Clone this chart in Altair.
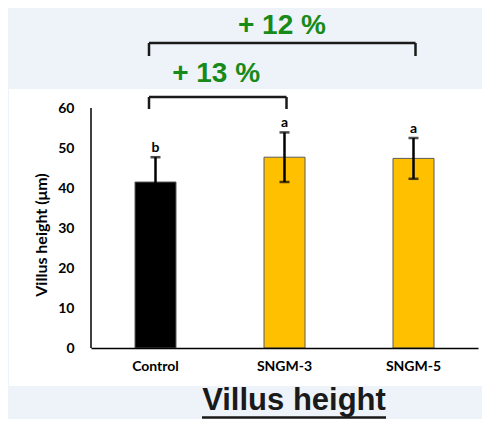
import altair as alt
import pandas as pd

categories = ["Control", "SNGM-3", "SNGM-5"]
means = [41.5, 47.7, 47.4]
errors = [6.2, 6.2, 5.1]
letters = ["b", "a", "a"]
bar_colors = ["#000000", "#FFC000", "#FFC000"]

y_ticks = [0, 10, 20, 30, 40, 50, 60]

bracket_from = ["Control", "Control"]
bracket_to = ["SNGM-5", "SNGM-3"]
bracket_top = [76.25, 62.75]
bracket_leg = [73.0, 59.75]
bracket_text = ["+ 12 %", "+ 13 %"]
bracket_text_y = [78.6, 66.5]
label_anchor = ["SNGM-3", "Control"]
label_band = [0.48, 0.97]

y_title = "Villus height (μm)"
chart_title = "Villus height"

df = pd.DataFrame({"cat": categories, "mean": means, "err": errors,
                   "letter": letters, "color": bar_colors})
df["lo"] = df["mean"] - df["err"]
df["hi"] = df["mean"] + df["err"]

bk = pd.DataFrame({"from": bracket_from, "to": bracket_to,
                   "top": bracket_top, "leg": bracket_leg})

one = pd.DataFrame({"k": [0]})

BLUE = "#eef3fa"
LF = "Lato"
FS = 14

xscale = alt.Scale(domain=categories, paddingInner=0, paddingOuter=0)
yscale = alt.Scale(domain=[0, 85], nice=False)

X_AXIS = alt.Axis(title=None, labelAngle=0, labelFont=LF, labelFontWeight="bold",
                  labelFontSize=FS, labelColor="#000000", ticks=False, tickSize=0,
                  labelPadding=11, domainColor="#000000", domainWidth=1.5,
                  grid=False, zindex=1)
Y_AXIS = alt.Axis(values=y_ticks, title=None, domain=False, ticks=False, tickSize=0,
                  grid=False, labelFont=LF, labelFontWeight="bold", labelFontSize=FS,
                  labelColor="#000000", labelPadding=17, zindex=1)


def xa(field, **kw):
    return alt.X(field, type="nominal", scale=xscale, sort=categories, axis=X_AXIS, **kw)


def ya(field):
    return alt.Y(field, type="quantitative", scale=yscale, axis=Y_AXIS)


# light-blue page areas around the white panel
bg_top = alt.Chart(one).mark_rect(color=BLUE).encode(
    x=alt.value(-83), x2=alt.value(400), y=alt.value(-1), y2=alt.value(81))
bg_left = alt.Chart(one).mark_rect(color=BLUE).encode(
    x=alt.value(-83), x2=alt.value(-82), y=alt.value(-1), y2=alt.value(425))
bg_bot = alt.Chart(one).mark_rect(color=BLUE).encode(
    x=alt.value(-83), x2=alt.value(400), y=alt.value(378), y2=alt.value(425))

bars = alt.Chart(df).mark_bar(size=41, stroke="#5a5a5a", strokeWidth=1).encode(
    x=xa("cat"), y=ya("mean"), fill=alt.Fill("color:N", scale=None))

yline = alt.Chart(pd.DataFrame({"a": [0], "b": [60]})).mark_rule(
    color="#000000", strokeWidth=1.5).encode(
    x=alt.value(0), y=ya("a"), y2=alt.Y2("b"))

err = alt.Chart(df).mark_rule(color="#000000", strokeWidth=2.5).encode(
    x=xa("cat"), y=ya("lo"), y2=alt.Y2("hi"))
cap_hi = alt.Chart(df).mark_tick(color="#000000", size=10, thickness=2.5).encode(
    x=xa("cat"), y=ya("hi"))
cap_lo = alt.Chart(df).mark_tick(color="#000000", size=10, thickness=2.5).encode(
    x=xa("cat"), y=ya("lo"))

lets = alt.Chart(df).mark_text(font=LF, fontWeight="bold", fontSize=FS, color="#000000",
                               baseline="alphabetic", dy=-5).encode(
    x=xa("cat"), y=ya("hi"), text="letter:N")

h_rule = alt.Chart(bk).mark_rule(color="#1a1a1a", strokeWidth=2.5, xOffset=-6.5, x2Offset=2).encode(
    x=xa("from"), x2=alt.X2("to"), y=ya("top"))
leg_l = alt.Chart(bk).mark_rule(color="#1a1a1a", strokeWidth=2.5, xOffset=-6.5).encode(
    x=xa("from"), y=ya("top"), y2=alt.Y2("leg"))
leg_r = alt.Chart(bk).mark_rule(color="#1a1a1a", strokeWidth=2.5, xOffset=2).encode(
    x=xa("to"), y=ya("top"), y2=alt.Y2("leg"))

pct_layers = []
for i in range(len(bracket_text)):
    d = pd.DataFrame({"anchor": [label_anchor[i]], "y": [bracket_text_y[i]], "t": [bracket_text[i]]})
    pct_layers.append(
        alt.Chart(d).mark_text(font="Liberation Sans", fontWeight="bold", fontSize=28,
                               color="#178a17", baseline="alphabetic", align="center").encode(
            x=xa("anchor", bandPosition=label_band[i]),
            y=ya("y"), text="t:N"))

ytitle = alt.Chart(one).mark_text(font=LF, fontWeight="bold", fontSize=16, color="#000000",
                                  angle=270, align="center", baseline="middle").encode(
    x=alt.value(-49), y=alt.value(227), text=alt.value(y_title))

title = alt.Chart(one).mark_text(font="Liberation Sans", fontWeight="bold", fontSize=31,
                                 color="#1a1a1a", align="center", baseline="alphabetic").encode(
    x=alt.value(203), y=alt.value(401.5), text=alt.value(chart_title))
underline = alt.Chart(one).mark_rule(color="#1a1a1a", strokeWidth=2.5).encode(
    x=alt.value(111), x2=alt.value(295), y=alt.value(409.6))

chart = alt.layer(bg_top, bg_left, bg_bot, bars, yline, err, cap_hi, cap_lo, lets,
                  h_rule, leg_l, leg_r, *pct_layers, ytitle, title, underline).properties(
    width=387, height=340,
    padding={"left": 83, "top": 0, "right": 4, "bottom": 71},
    autosize=alt.AutoSizeParams(type="none"),
    background="white",
).configure_view(stroke=None)

chart.save("out.html", embed_options={"renderer": "svg", "actions": False})
